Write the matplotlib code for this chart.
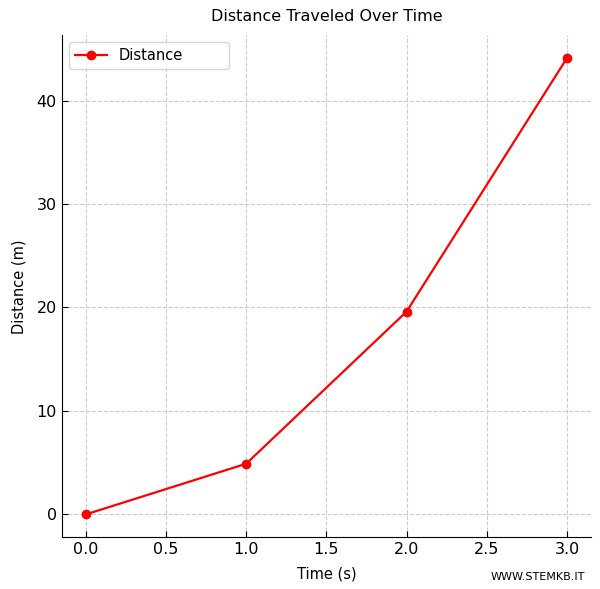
import matplotlib
matplotlib.use("Agg")
from matplotlib import pyplot as plt

time_s = [0, 1, 2, 3]
distance_m = [0, 4.9, 19.6, 44.1]
x_ticks = [0.0, 0.5, 1.0, 1.5, 2.0, 2.5, 3.0]
y_ticks = [0, 10, 20, 30, 40]

fig, ax = plt.subplots(figsize=(6.0, 5.89), dpi=100)
fig.subplots_adjust(left=0.103, right=0.985, top=0.94, bottom=0.088)

ax.plot(time_s, distance_m, color='red', marker='o', markersize=6, linewidth=1.6, label='Distance')

ax.set_title('Distance Traveled Over Time', fontsize=11.5, pad=10)
ax.set_xlabel('Time (s)', fontsize=10.5, labelpad=7)
ax.set_ylabel('Distance (m)', fontsize=10.5, labelpad=7)
ax.set_xticks(x_ticks)
ax.set_yticks(y_ticks)
ax.tick_params(labelsize=11.5, direction='in', length=4)
ax.set_xlim(-0.15, 3.15)
ax.set_ylim(-2.2, 46.3)
ax.grid(True, linestyle='--', color='#cccccc', linewidth=0.8)
ax.spines['top'].set_visible(False)
ax.spines['right'].set_visible(False)
ax.legend(loc='upper left', fontsize=10.5, fancybox=True, mode='expand',
          bbox_to_anchor=(0.013, 0.987, 0.303, 0), borderaxespad=0,
          handlelength=2.2, handletextpad=0.8)

fig.text(0.975, 0.012, 'WWW.STEMKB.IT', ha='right', va='bottom', fontsize=8)

fig.savefig('out.png', dpi=100)
